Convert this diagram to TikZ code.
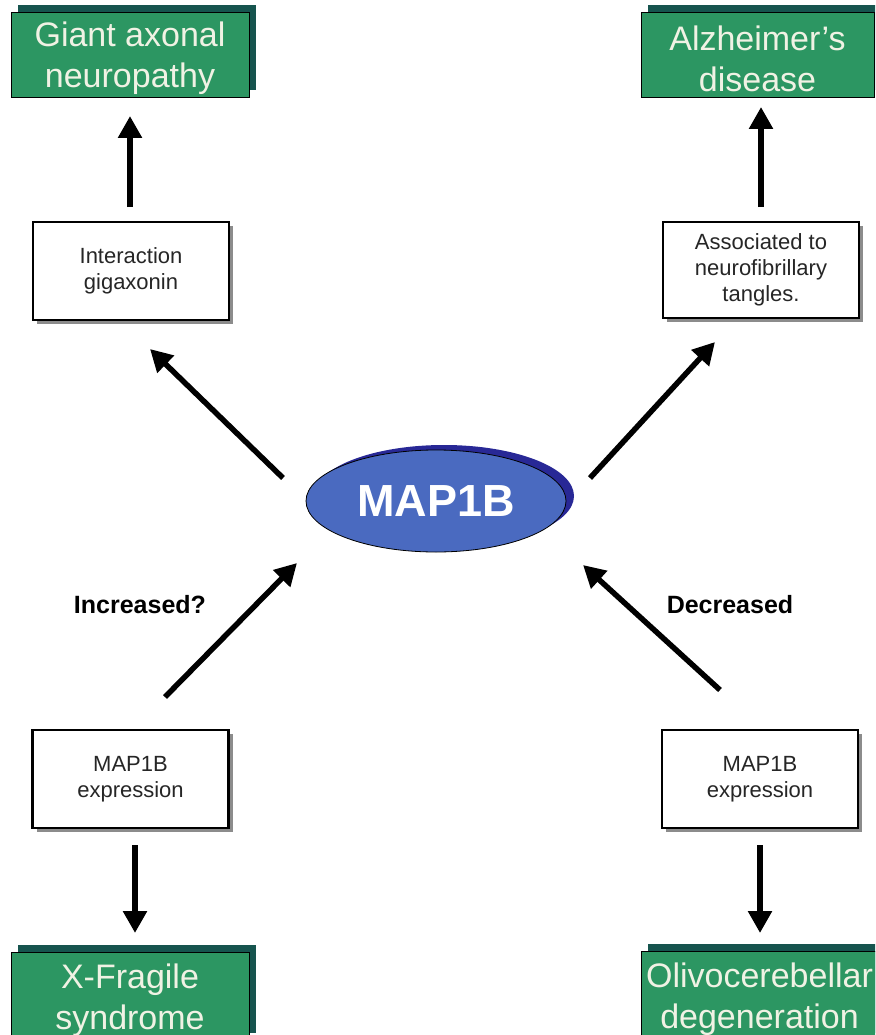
\documentclass[tikz,border=0pt]{standalone}
\usepackage{fontspec}
\setmainfont{Liberation Sans}
\usetikzlibrary{arrows.meta,shapes.geometric,shadows}
\definecolor{boxgreen}{RGB}{44,150,98}
\definecolor{darkteal}{RGB}{22,84,78}
\definecolor{ellblue}{RGB}{74,106,192}
\definecolor{darkblue}{RGB}{40,40,150}
\definecolor{creamtext}{RGB}{240,242,228}
\tikzset{
  disease/.style={rectangle, draw=black, line width=0.8pt, fill=boxgreen,
    general shadow={fill=darkteal, shadow xshift=7pt, shadow yshift=7pt},
    inner sep=0pt},
  dtext/.style={text=creamtext, font=\fontsize{34}{41}\selectfont, align=center,
    inner sep=0pt, yshift=-4pt},
  infobox/.style={rectangle, draw=black, line width=2.5pt, fill=white,
    general shadow={fill=black!45, shadow xshift=4pt, shadow yshift=-4pt},
    text=black!85, font=\fontsize{22}{26}\selectfont, align=center, inner sep=0pt,
    minimum width=196pt},
  hub/.style={ellipse, draw=black, line width=0.8pt, fill=ellblue,
    general shadow={fill=darkblue, shadow xshift=8pt, shadow yshift=5pt},
    minimum width=260pt, minimum height=102pt, inner sep=0pt,
    text=white, font=\fontsize{45}{50}\selectfont\bfseries},
  cue/.style={font=\fontsize{25}{30}\selectfont\bfseries},
  arr/.style={line width=5.5pt, -{Triangle[length=22pt,width=23pt]}}
}
\begin{document}
\begin{tikzpicture}[x=1pt,y=-1pt]
\useasboundingbox (0,0) rectangle (875,1035);
\clip (0,0) rectangle (875,1035);
\fill[white] (0,0) rectangle (875,1035);

% disease boxes
\node[disease, minimum width=238pt, minimum height=85pt,
  label={[dtext]center:Giant axonal\\neuropathy}] (gan) at (130,54.5) {};
\node[disease, minimum width=233pt, minimum height=85pt,
  label={[dtext]center:Alzheimer's\\disease}] (alz) at (757.5,54.5) {};
\node[disease, minimum width=238pt, minimum height=88pt,
  label={[dtext]center:X-Fragile\\syndrome}] (xfr) at (130,996) {};
\node[disease, minimum width=237pt, minimum height=89pt,
  label={[dtext]center:Olivocerebellar\\degeneration}] (olc) at (759.5,995.5) {};

% info boxes
\node[infobox, minimum height=98pt] (gig) at (131,271) {Interaction\\gigaxonin};
\node[infobox, minimum height=96pt] (nft) at (761,270) {Associated to\\neurofibrillary\\tangles.};
\node[infobox, minimum height=98pt] (ex1) at (130.5,779) {MAP1B\\expression};
\node[infobox, minimum height=98pt] (ex2) at (760,779) {MAP1B\\expression};

% hub
\node[hub] (map) at (436,501) {MAP1B};

% labels
\node[cue] (inc) at (140,605) {Increased?};
\node[cue] (dec) at (730,605) {Decreased};

% arrow end points
\coordinate (a1s) at (130,207); \coordinate (a1e) at (130,116);
\coordinate (a2s) at (761,207); \coordinate (a2e) at (761,107);
\coordinate (a3s) at (283,478); \coordinate (a3e) at (150,349);
\coordinate (a4s) at (590,478); \coordinate (a4e) at (715,342);
\coordinate (a5s) at (165,697); \coordinate (a5e) at (297,563);
\coordinate (a6s) at (720,690); \coordinate (a6e) at (583,565);
\coordinate (a7s) at (135,845); \coordinate (a7e) at (135,933);
\coordinate (a8s) at (760,845); \coordinate (a8e) at (760,933);

\draw[arr] (a1s) -- (a1e);
\draw[arr] (a2s) -- (a2e);
\draw[arr] (a3s) -- (a3e);
\draw[arr] (a4s) -- (a4e);
\draw[arr] (a5s) -- (a5e);
\draw[arr] (a6s) -- (a6e);
\draw[arr] (a7s) -- (a7e);
\draw[arr] (a8s) -- (a8e);
\end{tikzpicture}
\end{document}
